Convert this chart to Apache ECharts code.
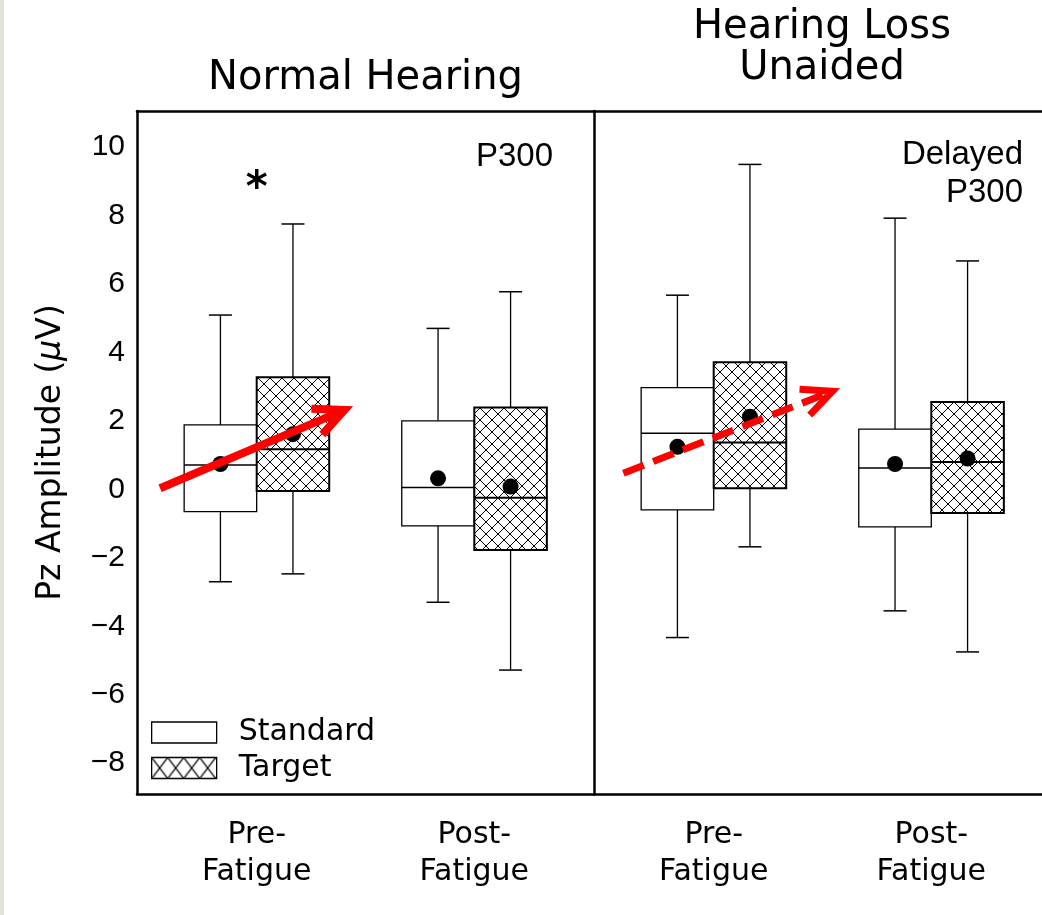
<!DOCTYPE html>
<html><head><meta charset="utf-8">
<script src="https://cdn.jsdelivr.net/npm/echarts@6/dist/echarts.min.js"></script>
<style>html,body{margin:0;padding:0;background:#fff}#c{width:1042px;height:915px}</style>
</head><body><div id="c"></div>
<script>
// ---------- data ----------
const panelTitles = ['Normal Hearing', 'Hearing Loss\nUnaided'];
const timeLabels = ['Pre-\nFatigue', 'Post-\nFatigue'];
const yTicks = [-8, -6, -4, -2, 0, 2, 4, 6, 8, 10];
// each entry: [min, q1, median, q3, max] for Pre-, Post-Fatigue
const nhStandard = [[-2.70, -0.65, 0.71, 1.88, 5.09], [-3.30, -1.07, 0.05, 2.00, 4.70]];
const nhTarget   = [[-2.47, -0.05, 1.17, 3.27, 7.75], [-5.28, -1.77, -0.25, 2.39, 5.77]];
const hlStandard = [[-4.33, -0.60, 1.64, 2.97, 5.67], [-3.55, -1.10, 0.62, 1.76, 7.92]];
const hlTarget   = [[-1.68, 0.03, 1.37, 3.71, 9.49], [-4.75, -0.69, 0.80, 2.55, 6.67]];
const nhStandardMean = [0.74, 0.32];
const nhTargetMean   = [1.61, 0.08];
const hlStandardMean = [1.24, 0.74];
const hlTargetMean   = [2.12, 0.90];
// annotation arrows [x0, y0, x1, y1] in data units
const nhArrow = [0.556, 0.03, 1.437, 2.41];
const hlArrow = [0.585, 0.47, 1.580, 2.95];
const nhStar = [1, 8.75];

// ---------- patterns ----------
function hatch(w, h, lw) {
  const c = document.createElement('canvas');
  c.width = w; c.height = h;
  const g = c.getContext('2d');
  g.fillStyle = '#fff'; g.fillRect(0, 0, w, h);
  g.strokeStyle = '#000'; g.lineWidth = lw;
  g.beginPath();
  g.moveTo(0, 0); g.lineTo(w, h);
  g.moveTo(w, 0); g.lineTo(0, h);
  g.stroke();
  return c;
}
const boxPattern = { image: hatch(12, 12, 1), repeat: 'repeat' };
const legendPattern = { image: hatch(16, 21, 1.3), repeat: 'repeat' };

const HALF = 1 / 6; // half box width (x data units)
function boxSeries(name, gi, stats, means, offset, isTarget) {
  return {
    type: 'custom', name, xAxisIndex: gi, yAxisIndex: gi, z: isTarget ? 3 : 2,
    itemStyle: { color: isTarget ? legendPattern : '#fff', borderColor: '#000' },
    data: stats.map((s, i) => [i + 1].concat(s, [means[i]])),
    encode: { x: 0, y: [1, 2, 3, 4, 5, 6] },
    renderItem: function (params, api) {
      const cx = api.value(0) + offset;
      const pMin = api.coord([cx, api.value(1)]);
      const pQ1 = api.coord([cx, api.value(2)]);
      const pMed = api.coord([cx, api.value(3)]);
      const pQ3 = api.coord([cx, api.value(4)]);
      const pMax = api.coord([cx, api.value(5)]);
      const pMean = api.coord([cx, api.value(6)]);
      const xl = api.coord([cx - HALF, 0])[0];
      const xr = api.coord([cx + HALF, 0])[0];
      const bw = isTarget ? 2 : 1.3;
      const ls = { stroke: '#000', lineWidth: 1.3 };
      const cap = 11.5;
      return {
        type: 'group', children: [
          { type: 'line', shape: { x1: pMax[0], y1: pMax[1], x2: pQ3[0], y2: pQ3[1] }, style: ls },
          { type: 'line', shape: { x1: pQ1[0], y1: pQ1[1], x2: pMin[0], y2: pMin[1] }, style: ls },
          { type: 'line', shape: { x1: pMax[0] - cap, y1: pMax[1], x2: pMax[0] + cap, y2: pMax[1] }, style: { stroke: '#000', lineWidth: 1.5 } },
          { type: 'line', shape: { x1: pMin[0] - cap, y1: pMin[1], x2: pMin[0] + cap, y2: pMin[1] }, style: { stroke: '#000', lineWidth: 1.5 } },
          { type: 'rect', shape: { x: xl, y: pQ3[1], width: xr - xl, height: pQ1[1] - pQ3[1] },
            style: { fill: isTarget ? boxPattern : '#fff', stroke: '#000', lineWidth: bw } },
          { type: 'line', shape: { x1: xl, y1: pMed[1], x2: xr, y2: pMed[1] }, style: { stroke: '#000', lineWidth: isTarget ? 2 : 1.5 } },
          { type: 'circle', shape: { cx: pMean[0], cy: pMean[1], r: 8 }, style: { fill: '#000' } }
        ]
      };
    }
  };
}

function arrowSeries(gi, arr, dashed) {
  return {
    type: 'custom', xAxisIndex: gi, yAxisIndex: gi, z: 10, silent: true,
    data: [arr],
    encode: { x: [0, 2], y: [1, 3] },
    renderItem: function (params, api) {
      const p0 = api.coord([api.value(0), api.value(1)]);
      const tip = api.coord([api.value(2), api.value(3)]);
      const ang = Math.atan2(tip[1] - p0[1], tip[0] - p0[0]);
      const lw = dashed ? 7 : 8;
      const v = [tip[0] - 8 * Math.cos(ang), tip[1] - 8 * Math.sin(ang)];
      const L = 33, a = 25 * Math.PI / 180;
      const w1 = [v[0] - L * Math.cos(ang - a), v[1] - L * Math.sin(ang - a)];
      const w2 = [v[0] - L * Math.cos(ang + a), v[1] - L * Math.sin(ang + a)];
      return {
        type: 'group', children: [
          { type: 'line', shape: { x1: p0[0], y1: p0[1], x2: v[0] - 3 * Math.cos(ang), y2: v[1] - 3 * Math.sin(ang) },
            style: { stroke: '#ff0000', lineWidth: lw, lineDash: dashed ? [22, 10] : null, lineCap: 'butt' } },
          { type: 'polyline', shape: { points: [w1, v, w2] },
            style: { stroke: '#ff0000', lineWidth: lw, fill: null, lineJoin: 'miter', lineCap: 'butt' } }
        ]
      };
    }
  };
}

const starSeries = {
  type: 'custom', xAxisIndex: 0, yAxisIndex: 0, z: 5, silent: true,
  data: [nhStar],
  encode: { x: 0, y: 1 },
  renderItem: function (params, api) {
    const p = api.coord([api.value(0), api.value(1)]);
    return { type: 'text', x: p[0], y: p[1],
      style: { text: '*', fontFamily: 'DejaVu Sans', fontWeight: 'bold', fontSize: 42, fill: '#000', align: 'center', verticalAlign: 'middle' } };
  }
};

const Y_MIN = -8.90, Y_MAX = 11.05;
const X_MIN = 0.45, X_MAX = 2.55;
const PANEL_W = 457;
const X_MAX_RIGHT = X_MIN + (X_MAX - X_MIN) * 448 / PANEL_W; // right panel is cropped at the page edge
const fmtY = v => String(v).replace('-', '\u2212');
const frameLine = { show: true, onZero: false, lineStyle: { color: '#000', width: 2.5 } };

function xAxis(gi, max) {
  return {
    type: 'value', gridIndex: gi, min: X_MIN, max: max,
    axisLine: frameLine, axisTick: { show: false }, splitLine: { show: false },
    axisLabel: {
      customValues: [1, 2], formatter: v => timeLabels[Math.round(v) - 1] || '',
      margin: 23, fontFamily: 'DejaVu Sans', fontSize: 30, lineHeight: 37, color: '#000'
    }
  };
}
function topAxis(gi, max) {
  return { type: 'value', gridIndex: gi, position: 'top', min: X_MIN, max: max, axisLine: frameLine,
    axisTick: { show: false }, axisLabel: { show: false }, splitLine: { show: false } };
}

const chart = echarts.init(document.getElementById('c'), null, { renderer: 'canvas' });
chart.setOption({
  animation: false,
  backgroundColor: '#fff',
  grid: [
    { left: 137, top: 111, width: PANEL_W, height: 683, show: false },
    { left: 594, top: 111, width: 448, height: 683, show: false }
  ],
  xAxis: [xAxis(0, X_MAX), xAxis(1, X_MAX_RIGHT), topAxis(0, X_MAX), topAxis(1, X_MAX_RIGHT)],
  yAxis: [
    {
      type: 'value', gridIndex: 0, min: Y_MIN, max: Y_MAX,
      axisLine: frameLine, axisTick: { show: false }, splitLine: { show: false },
      axisLabel: { customValues: yTicks, formatter: fmtY, margin: 12, fontFamily: 'Liberation Sans', fontSize: 30, color: '#000' },
      name: 'Pz Amplitude ({i|\u03bc}V)', nameLocation: 'middle', nameRotate: 90, nameGap: 69,
      nameTextStyle: { fontFamily: 'DejaVu Sans', fontSize: 33, color: '#000',
        rich: { i: { fontFamily: 'DejaVu Sans', fontStyle: 'italic', fontSize: 33, color: '#000' } } }
    },
    {
      type: 'value', gridIndex: 1, min: Y_MIN, max: Y_MAX,
      axisLine: frameLine, axisTick: { show: false }, splitLine: { show: false }, axisLabel: { show: false }
    }
  ],
  legend: {
    left: 151, top: 717.5, orient: 'vertical', itemWidth: 65, itemHeight: 21, itemGap: 5.5, padding: 0,
    icon: 'rect', selectedMode: false,
    textStyle: { fontFamily: 'DejaVu Sans', fontSize: 30, color: '#000', padding: [0, 0, 0, 17] },
    data: [
      { name: 'Standard', itemStyle: { color: '#fff', borderColor: '#000', borderWidth: 1.3 } },
      { name: 'Target', itemStyle: { color: legendPattern, borderColor: '#000', borderWidth: 1.3 } }
    ]
  },
  graphic: [
    { type: 'rect', shape: { x: 0, y: 0, width: 4, height: 915 }, style: { fill: '#e5e2db' } },
    { type: 'text', x: 365.5, y: 79, style: { text: panelTitles[0], fontFamily: 'DejaVu Sans', fontSize: 40, fill: '#000', align: 'center', verticalAlign: 'middle' } },
    { type: 'text', x: 822, y: 48, style: { text: panelTitles[1], fontFamily: 'DejaVu Sans', fontSize: 40, lineHeight: 41, fill: '#000', align: 'center', verticalAlign: 'middle' } },
    { type: 'text', x: 553, y: 157, style: { text: 'P300', fontFamily: 'Liberation Sans', fontSize: 33, fill: '#000', align: 'right', verticalAlign: 'middle' } },
    { type: 'text', x: 1023, y: 174, style: { text: 'Delayed\nP300', fontFamily: 'Liberation Sans', fontSize: 33, lineHeight: 38, fill: '#000', align: 'right', verticalAlign: 'middle' } }
  ],
  series: [
    boxSeries('Standard', 0, nhStandard, nhStandardMean, -HALF, false),
    boxSeries('Target', 0, nhTarget, nhTargetMean, HALF, true),
    boxSeries('Standard', 1, hlStandard, hlStandardMean, -HALF, false),
    boxSeries('Target', 1, hlTarget, hlTargetMean, HALF, true),
    arrowSeries(0, nhArrow, false),
    arrowSeries(1, hlArrow, true),
    starSeries
  ]
});
</script></body></html>
